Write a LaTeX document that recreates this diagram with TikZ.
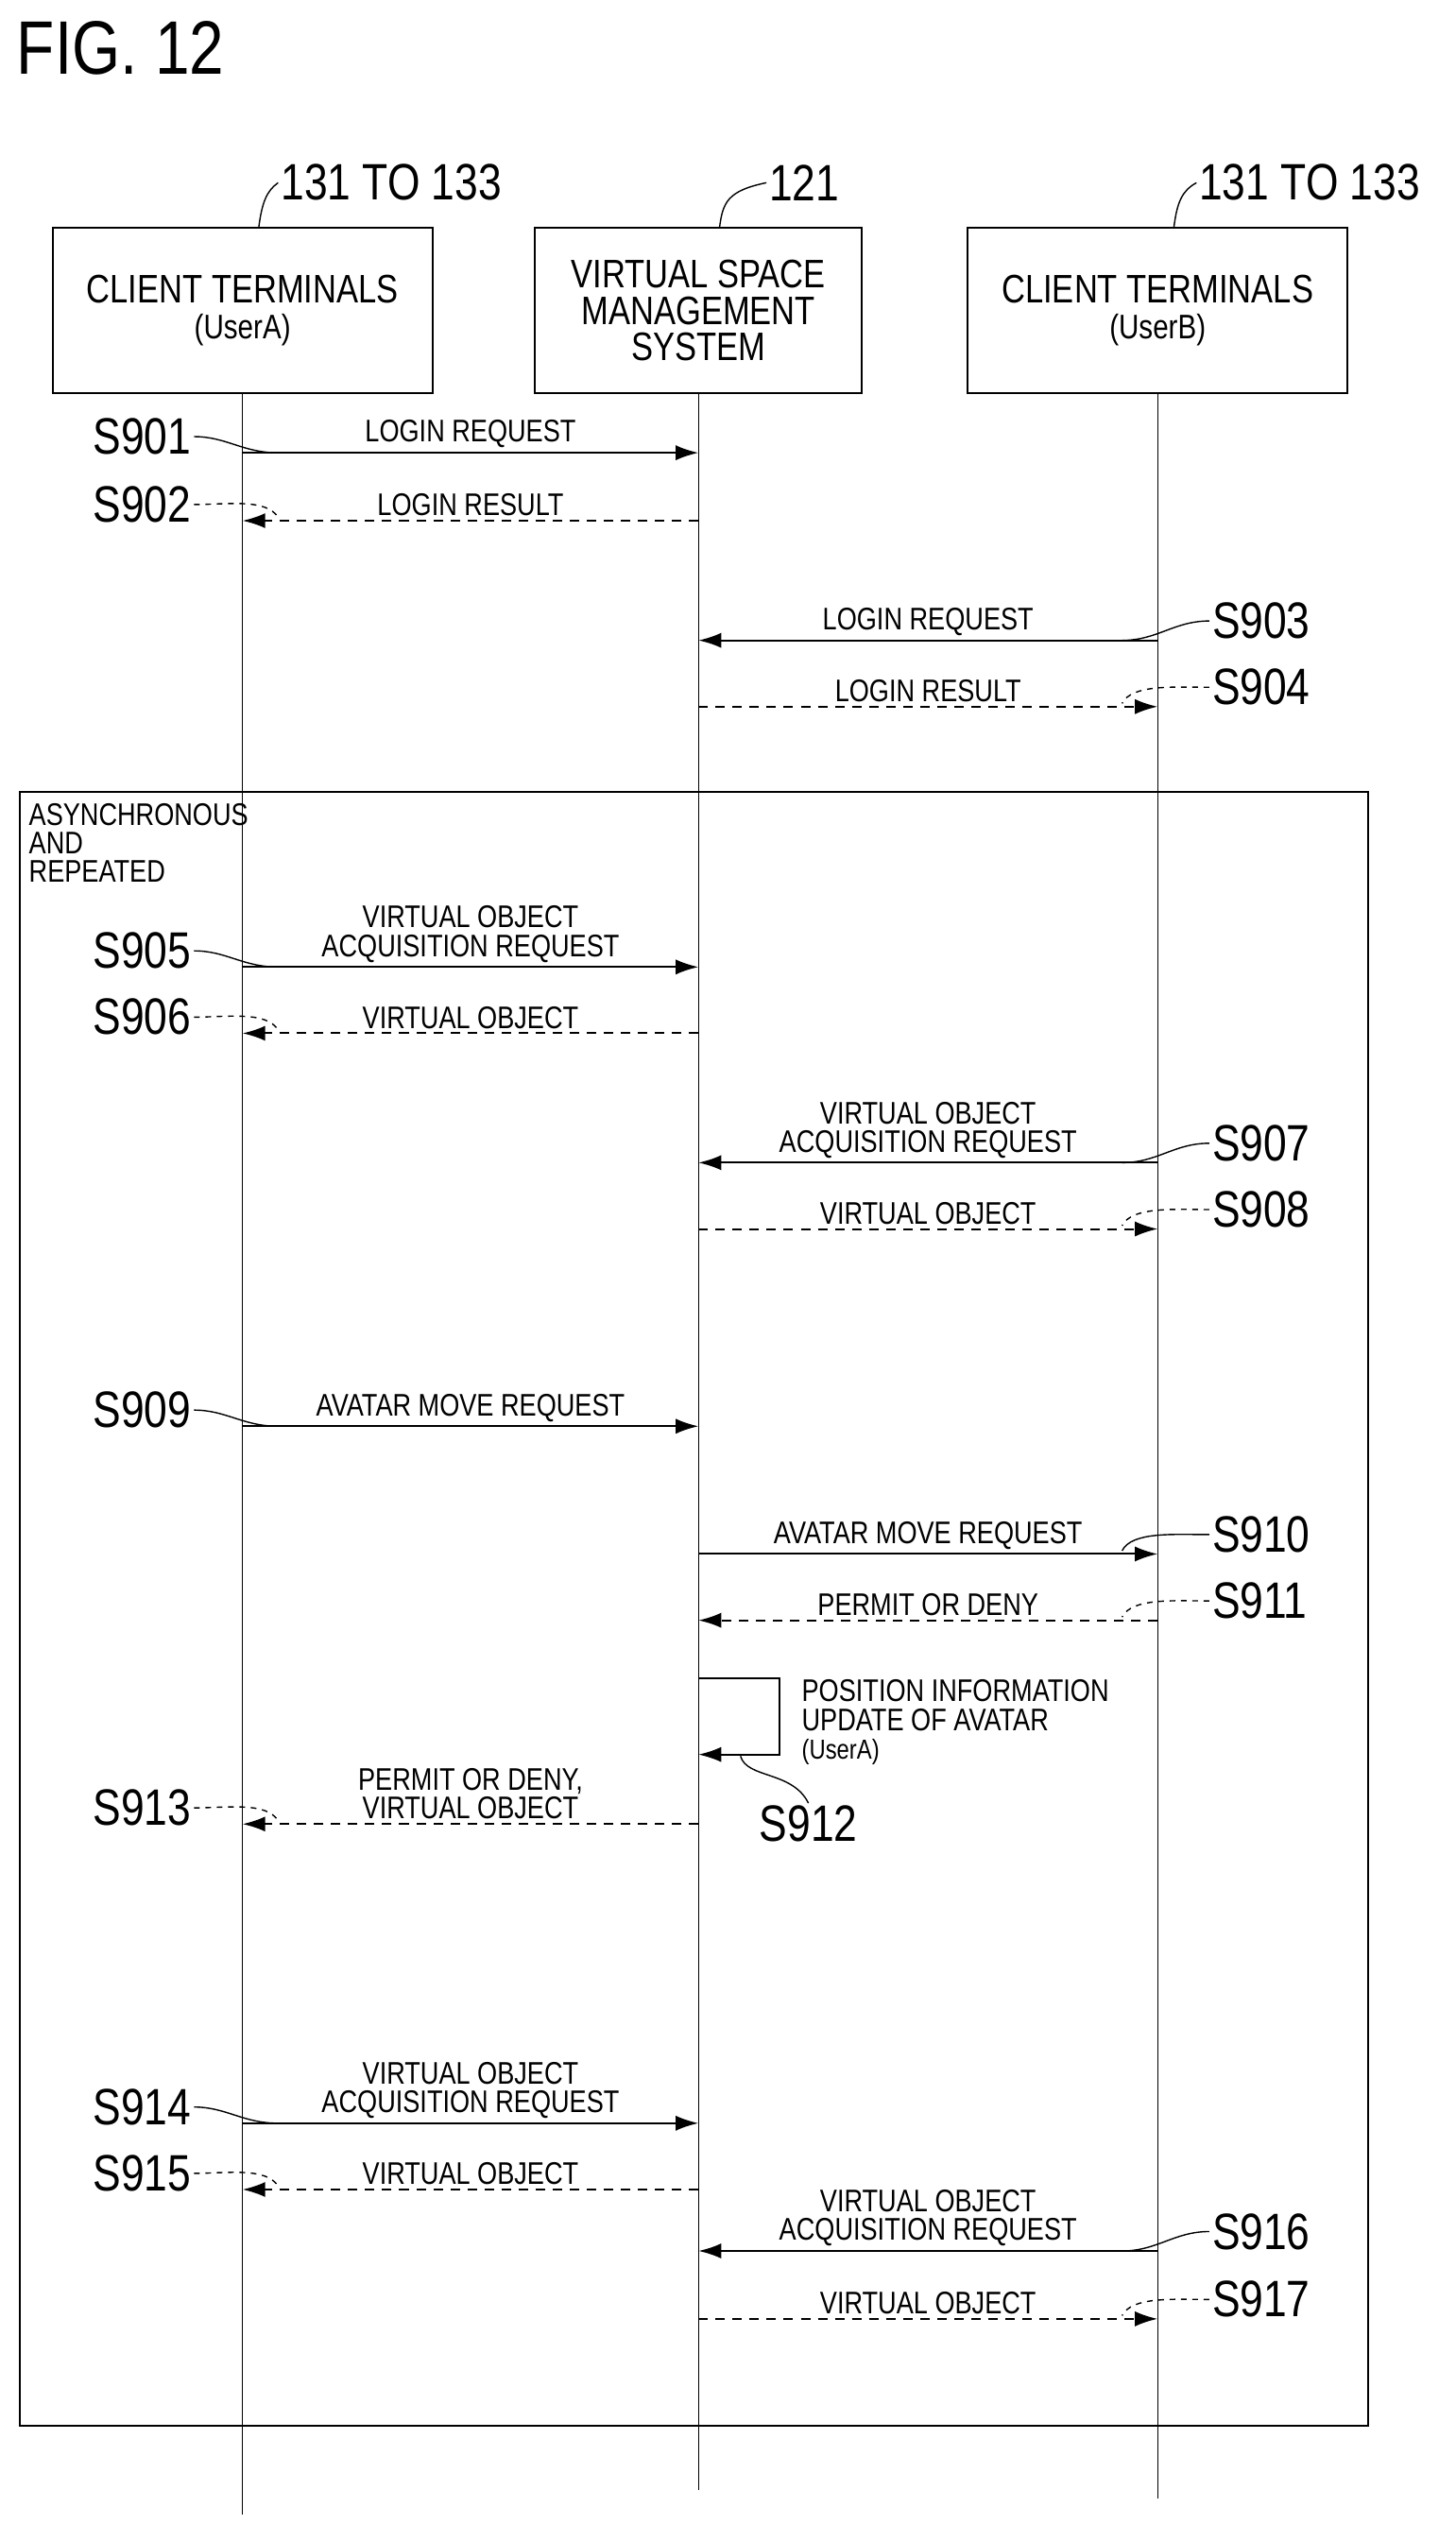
\documentclass[tikz,border=0pt]{standalone}
\usepackage{fontspec}
\setmainfont[FakeStretch=0.82]{Liberation Sans}
\usetikzlibrary{arrows.meta}
\begin{document}
\begin{tikzpicture}[x=0.03cm,y=-0.03cm,line width=1pt,
    actor/.style={draw,minimum width=235*0.03cm,minimum height=102*0.03cm,align=center,font=\fontsize{21}{19}\selectfont},
    msg/.style={-{Latex[length=12pt,width=8pt]}},
    reply/.style={msg,dash pattern=on 5pt off 4pt},
    txt/.style={font=\fontsize{16.5}{15}\selectfont,align=center,inner sep=2pt},
    steplbl/.style={font=\fontsize{27}{27}\selectfont,inner sep=1pt},
    tick/.style={line width=0.7pt}]
  \useasboundingbox (0,0) rectangle (900,1572);
  \node[font=\fontsize{40}{40}\selectfont,anchor=west] (fig) at (6,30) {FIG. 12};
  % actors
  \node[actor] (A) at (150,192) {CLIENT TERMINALS\\{\fontsize{18}{18}\selectfont (UserA)}};
  \node[actor,minimum width=202*0.03cm] (M) at (432,192) {VIRTUAL SPACE\\MANAGEMENT\\SYSTEM};
  \node[actor] (B) at (716,192) {CLIENT TERMINALS\\{\fontsize{18}{18}\selectfont (UserB)}};
  \node[steplbl,anchor=west] (rA) at (172,113) {131 TO 133};
  \node[steplbl,anchor=west] (rM) at (474,113) {121};
  \node[steplbl,anchor=west] (rB) at (740,113) {131 TO 133};
  \draw[tick] (160,141) .. controls (162,125) and (165,118) .. (rA.west);
  \draw[tick] (445,141) .. controls (447,125) and (450,118) .. (rM.west);
  \draw[tick] (726,141) .. controls (728,125) and (731,118) .. (rB.west);
  % lifelines
  \coordinate (Aend) at (150,1555);
  \coordinate (Mend) at (432,1540);
  \coordinate (Bend) at (716,1545);
  \draw[line width=0.7pt] (A.south) -- (Aend) (M.south) -- (Mend) (B.south) -- (Bend);
  % frame
  \draw (12,490) rectangle (846,1500);
  \node[txt,anchor=north west,align=left] (loop) at (15,494) {ASYNCHRONOUS\\AND\\REPEATED};
  % A <-> M
  \foreach \y/\s/\t/\k in {280/S901/LOGIN REQUEST/msg,598/S905/{VIRTUAL OBJECT\\ACQUISITION REQUEST}/msg,
      882/S909/AVATAR MOVE REQUEST/msg,1313/S914/{VIRTUAL OBJECT\\ACQUISITION REQUEST}/msg}{
    \coordinate (a\s) at (150,\y); \coordinate (m\s) at (432,\y);
    \draw[\k] (a\s) -- node[txt,above] {\t} (m\s);
    \node[steplbl,anchor=east] (l\s) at (120,\y-10) {\s};
    \draw[tick] (l\s.east) .. controls (140,\y-10) and (150,\y) .. (172,\y);
  }
  \foreach \y/\s/\t in {322/S902/LOGIN RESULT,639/S906/VIRTUAL OBJECT,
      1128/S913/{PERMIT OR DENY,\\VIRTUAL OBJECT},1354/S915/VIRTUAL OBJECT}{
    \coordinate (a\s) at (150,\y); \coordinate (m\s) at (432,\y);
    \draw[reply] (m\s) -- node[txt,above] {\t} (a\s);
    \node[steplbl,anchor=east] (l\s) at (120,\y-10) {\s};
    \draw[tick,dashed] (l\s.east) .. controls (140,\y-10) and (165,\y-14) .. (172,\y-2);
  }
  % B <-> M
  \foreach \y/\s/\t in {396/S903/LOGIN REQUEST,719/S907/{VIRTUAL OBJECT\\ACQUISITION REQUEST},
      1392/S916/{VIRTUAL OBJECT\\ACQUISITION REQUEST}}{
    \coordinate (b\s) at (716,\y); \coordinate (m\s) at (432,\y);
    \draw[msg] (b\s) -- node[txt,above] {\t} (m\s);
    \node[steplbl,anchor=west] (l\s) at (748,\y-12) {\s};
    \draw[tick] (l\s.west) .. controls (726,\y-12) and (716,\y) .. (694,\y);
  }
  \foreach \y/\s/\t/\k/\d in {437/S904/LOGIN RESULT/reply/dashed,760/S908/VIRTUAL OBJECT/reply/dashed,
      961/S910/AVATAR MOVE REQUEST/msg/solid,1434/S917/VIRTUAL OBJECT/reply/dashed}{
    \coordinate (b\s) at (716,\y); \coordinate (m\s) at (432,\y);
    \draw[\k] (m\s) -- node[txt,above] {\t} (b\s);
    \node[steplbl,anchor=west] (l\s) at (748,\y-12) {\s};
    \draw[tick,\d] (l\s.west) .. controls (726,\y-12) and (700,\y-14) .. (694,\y-2);
  }
  \coordinate (bS911) at (716,1002); \coordinate (mS911) at (432,1002);
  \draw[reply] (bS911) -- node[txt,above] {PERMIT OR DENY} (mS911);
  \node[steplbl,anchor=west] (lS911) at (748,990) {S911};
  \draw[tick,dashed] (lS911.west) .. controls (726,990) and (700,988) .. (694,1000);
  % self message
  \coordinate (s1) at (432,1038); \coordinate (s2) at (432,1085);
  \draw[msg] (s1) -- (482,1038) -- (482,1085) -- (s2);
  \node[txt,anchor=north west,align=left] (upd) at (493,1036) {POSITION INFORMATION\\UPDATE OF AVATAR\\{\fontsize{14.5}{14}\selectfont (UserA)}};
  \node[steplbl] (lS912) at (500,1128) {S912};
  \draw[tick] (458,1086) .. controls (462,1100) and (490,1095) .. (lS912.north);
\end{tikzpicture}
\end{document}
